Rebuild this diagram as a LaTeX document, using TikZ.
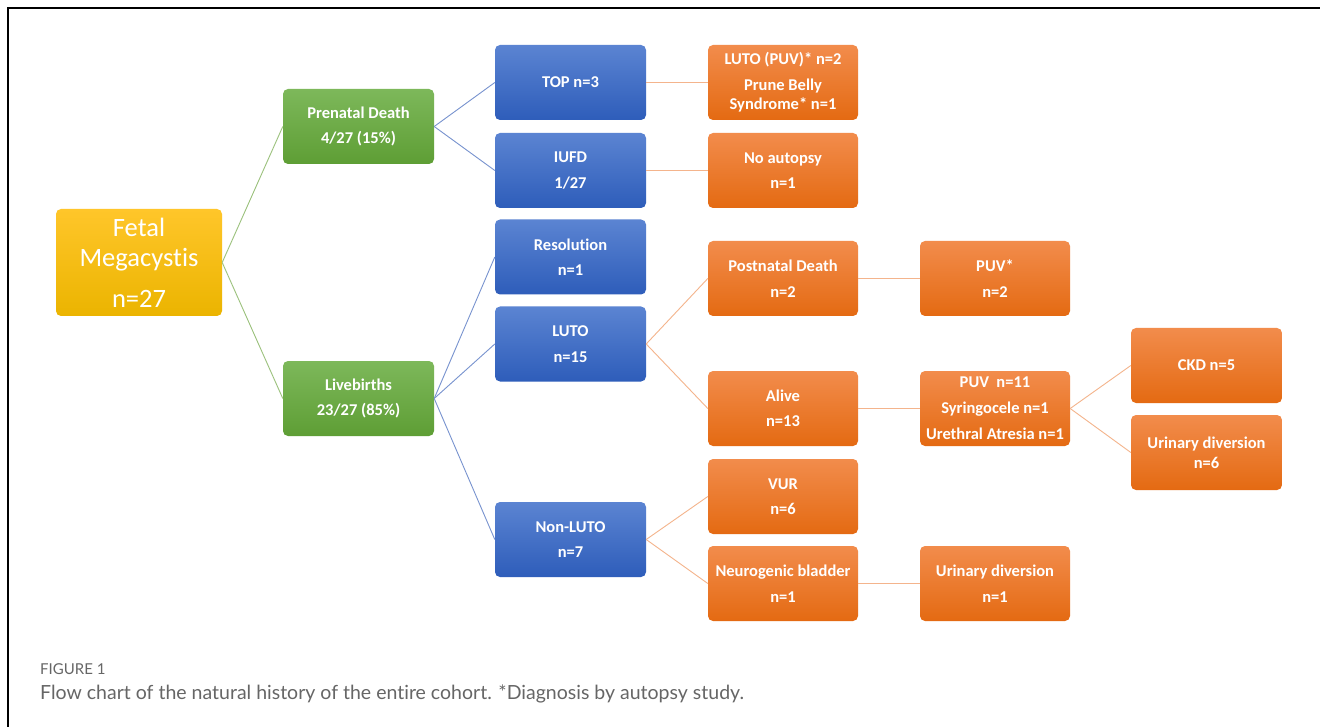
\documentclass[tikz,border=0pt]{standalone}
\usepackage{fontspec}
\setmainfont{Carlito}[Ligatures=NoCommon]
\newfontfamily\capfont{Lato}[Ligatures=NoCommon]
\begin{document}
\begin{tikzpicture}[x=1pt,y=-1pt,
  box/.style={rounded corners=5pt, minimum width=151pt, minimum height=75pt, inner sep=0pt,
    align=center, text=white, font=\fontsize{16.5}{25.5}\selectfont\bfseries},
  gold/.style={box, top color=goldT, bottom color=goldB},
  grn/.style={box, top color=grnT, bottom color=grnB},
  blu/.style={box, top color=bluT, bottom color=bluB},
  org/.style={box, top color=orgT, bottom color=orgB},
  lg/.style={draw=lineG, line width=0.9pt},
  lb/.style={draw=lineB, line width=0.9pt},
  lo/.style={draw=lineO, line width=0.9pt}]
\definecolor{goldT}{HTML}{FFC62A}
\definecolor{goldB}{HTML}{EBB400}
\definecolor{grnT}{HTML}{7DB85A}
\definecolor{grnB}{HTML}{5E9E35}
\definecolor{bluT}{HTML}{5B84D2}
\definecolor{bluB}{HTML}{2E5DBA}
\definecolor{orgT}{HTML}{F28C4C}
\definecolor{orgB}{HTML}{E46A12}
\definecolor{lineG}{HTML}{9BC17C}
\definecolor{lineB}{HTML}{7893CF}
\definecolor{lineO}{HTML}{F4B48C}
\definecolor{capgray}{HTML}{666666}
\useasboundingbox (0,0) rectangle (1320,727);
\fill[white] (0,0) rectangle (1320,727);
\draw[line width=2pt, black] (7.5,727) -- (7.5,8.5) -- (1320,8.5);

\node[gold, minimum width=166pt, minimum height=107pt, font=\fontsize{26.5}{30}\selectfont] (fm) at (139,262.5) {Fetal\\Megacystis\\[11pt]n=27};
\node[grn] (pd) at (358.5,126.5) {Prenatal Death\\4/27 (15\%)};
\node[grn] (lb) at (358.5,398.5) {Livebirths\\23/27 (85\%)};
\node[blu] (top) at (570.5,82.5) {TOP n=3};
\node[blu] (iufd) at (570.5,170.5) {IUFD\\1/27};
\node[blu] (res) at (570.5,257) {Resolution\\n=1};
\node[blu] (luto) at (570.5,344) {LUTO\\n=15};
\node[blu] (nonluto) at (570.5,539.5) {Non-LUTO\\n=7};
\node[org, minimum width=150pt] (lp) at (783,82.5) {LUTO (PUV)* n=2\\Prune Belly\\[-6pt]Syndrome* n=1};
\node[org, minimum width=150pt] (na) at (783,170.5) {No autopsy\\n=1};
\node[org, minimum width=150pt] (pnd) at (783,278.5) {Postnatal Death\\n=2};
\node[org, minimum width=150pt] (alive) at (783,408.5) {Alive\\n=13};
\node[org, minimum width=150pt] (vur) at (783,496.5) {VUR\\n=6};
\node[org, minimum width=150pt] (neuro) at (783,583.5) {Neurogenic bladder\\n=1};
\node[org, minimum width=150pt] (puvs) at (995,278.5) {PUV*\\n=2};
\node[org, minimum width=150pt, font=\fontsize{16.5}{26}\selectfont\bfseries] (puv) at (995,408.5) {PUV\ \ n=11\\Syringocele n=1\\Urethral Atresia n=1};
\node[org, minimum width=150pt] (ud1) at (995,583.5) {Urinary diversion\\n=1};
\node[org] (ckd) at (1206.5,365.5) {CKD n=5};
\node[org, font=\fontsize{16.5}{20}\selectfont\bfseries] (ud6) at (1206.5,452.5) {Urinary diversion\\n=6};

\draw[lg] (fm.east) -- (pd.west);
\draw[lg] (fm.east) -- (lb.west);
\draw[lb] (pd.east) -- (top.west);
\draw[lb] (pd.east) -- (iufd.west);
\draw[lb] (lb.east) -- (res.west);
\draw[lb] (lb.east) -- (luto.west);
\draw[lb] (lb.east) -- (nonluto.west);
\draw[lo] (top.east) -- (lp.west);
\draw[lo] (iufd.east) -- (na.west);
\draw[lo] (luto.east) -- (pnd.west);
\draw[lo] (luto.east) -- (alive.west);
\draw[lo] (pnd.east) -- (puvs.west);
\draw[lo] (alive.east) -- (puv.west);
\draw[lo] (puv.east) -- (ckd.west);
\draw[lo] (puv.east) -- (ud6.west);
\draw[lo] (nonluto.east) -- (vur.west);
\draw[lo] (nonluto.east) -- (neuro.west);
\draw[lo] (neuro.east) -- (ud1.west);

\node[anchor=base west, inner sep=0pt, text=capgray, font=\capfont\fontsize{15}{17}\selectfont] (figlab) at (40,674) {FIGURE 1};
\node[anchor=base west, inner sep=0pt, text=capgray, font=\capfont\fontsize{19.5}{22}\selectfont] (cap) at (40,699) {Flow chart of the natural history of the entire cohort. *Diagnosis by autopsy study.};
\end{tikzpicture}
\end{document}
